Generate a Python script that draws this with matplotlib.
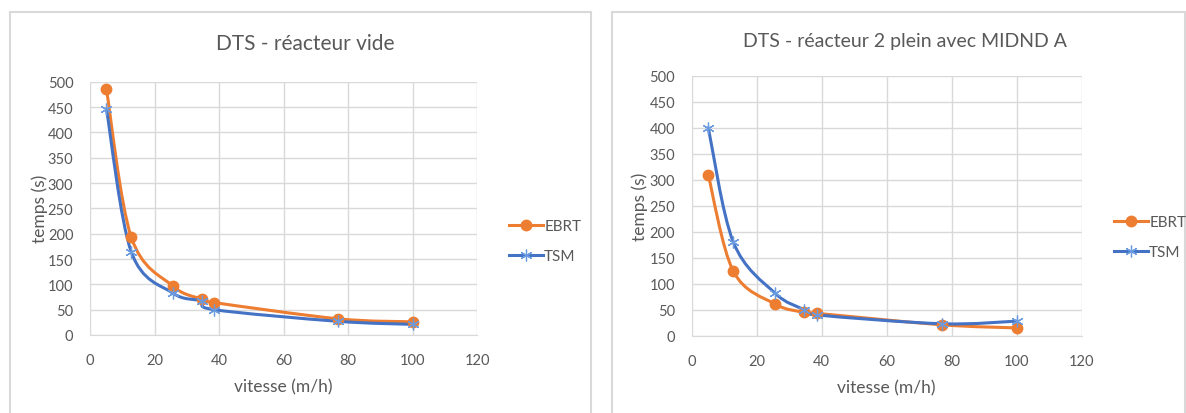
import numpy as np
import matplotlib
matplotlib.use('Agg')
from matplotlib import pyplot as plt
from matplotlib.path import Path
from matplotlib.patches import PathPatch, Rectangle
from matplotlib.lines import Line2D

plt.rcParams['font.family'] = ['Liberation Sans Narrow', 'Lato', 'DejaVu Sans']

# vitesse (m/h)
vitesse = [5.1, 12.8, 25.6, 34.6, 38.5, 76.9, 100]

# DTS - reacteur vide
vide_ebrt = [485, 193, 97, 71, 64, 32, 26]
vide_tsm = [446, 164, 83, 67, 50, 27, 21]

# DTS - reacteur 2 plein avec MIDND A
plein_ebrt = [309, 124, 61, 45, 43, 21, 15]
plein_tsm = [400, 180, 82, 50, 40, 23, 28]

titles = ['DTS - réacteur vide', 'DTS - réacteur 2 plein avec MIDND A']

ORANGE = '#ED7D31'
BLUE = '#4472C4'
BLUE_MK = '#6A9BE0'
GREY = '#595959'
GRID = '#d9d9d9'
ASTER = (6, 2, 0)


def smooth_path(x, y):
    # excel style smoothed line: catmull-rom segments as cubic beziers
    p = np.column_stack([x, y]).astype(float)
    pp = np.vstack([p[0], p, p[-1]])
    verts = [p[0]]
    codes = [Path.MOVETO]
    for i in range(1, len(pp) - 2):
        c1 = pp[i] + (pp[i + 1] - pp[i - 1]) / 6
        c2 = pp[i + 1] - (pp[i + 2] - pp[i]) / 6
        verts += [c1, c2, pp[i + 1]]
        codes += [Path.CURVE4] * 3
    return Path(verts, codes)


def draw(ax, ebrt, tsm):
    for ys, col in [(ebrt, ORANGE), (tsm, BLUE)]:
        ax.add_patch(PathPatch(smooth_path(vitesse, ys), fc='none', ec=col, lw=2.2,
                               capstyle='round', joinstyle='round', zorder=3))
    ax.plot(vitesse, ebrt, ls='none', marker='o', ms=7.5, color=ORANGE, zorder=4)
    ax.plot(vitesse, tsm, ls='none', marker=ASTER, ms=8.5, mew=0.9, color=BLUE_MK, zorder=5)

    ax.set_xlim(0, 120)
    ax.set_ylim(0, 500)
    ax.set_xticks(np.arange(0, 121, 20))
    ax.set_yticks(np.arange(0, 501, 50))
    ax.grid(True, color=GRID, lw=1)
    ax.set_axisbelow(True)
    for s in ['top', 'right', 'left']:
        ax.spines[s].set_visible(False)
    ax.spines['bottom'].set_color(GRID)
    ax.tick_params(length=0, colors=GREY, labelsize=10.5)
    ax.tick_params(axis='y', pad=12)
    ax.tick_params(axis='x', pad=13)
    ax.set_xlabel('vitesse (m/h)', color=GREY, fontsize=12.5, labelpad=8)
    ax.set_ylabel('temps (s)', color=GREY, fontsize=12.5)


W, H = 1186, 414
fig = plt.figure(figsize=(W / 100, H / 100), dpi=100)

# chart frames
fig.patches.append(Rectangle((10 / W, -0.1), 581 / W, (414 - 12.7) / H + 0.1, transform=fig.transFigure,
                             fc='none', ec=GRID, lw=1.5))
fig.patches.append(Rectangle((611.7 / W, -0.1), 573.5 / W, (414 - 12.7) / H + 0.1, transform=fig.transFigure,
                             fc='none', ec=GRID, lw=1.5))

ax0 = fig.add_axes([90 / W, (H - 336) / H, 387 / W, 253.3 / H])
ax1 = fig.add_axes([691.7 / W, (H - 336.7) / H, 390 / W, 260 / H])

draw(ax0, vide_ebrt, vide_tsm)
draw(ax1, plein_ebrt, plein_tsm)
ax0.yaxis.set_label_coords(-0.108, 0.5)
ax1.yaxis.set_label_coords(-0.112, 0.5)

fig.text(305 / W, 1 - 44 / H, titles[0], ha='center', va='center', fontsize=15, color=GREY)
fig.text(905 / W, 1 - 42 / H, titles[1], ha='center', va='center', fontsize=14, color=GREY)

handles = [Line2D([], [], color=ORANGE, lw=2.2, marker='o', ms=7.5),
           Line2D([], [], color=BLUE, lw=2.2, marker=ASTER, ms=8.5, mew=0.9, mec=BLUE_MK)]
for x0, yc in [(509 / W, 1 - 242 / H), (1114 / W, 1 - 238 / H)]:
    fig.legend(handles, ['EBRT', 'TSM'], loc='center left', bbox_to_anchor=(x0, yc), frameon=False,
               fontsize=11, labelcolor=GREY, handlelength=2.2, handletextpad=0.1, labelspacing=1.05,
               borderpad=0, borderaxespad=0)

plt.savefig('out.png', dpi=100)
